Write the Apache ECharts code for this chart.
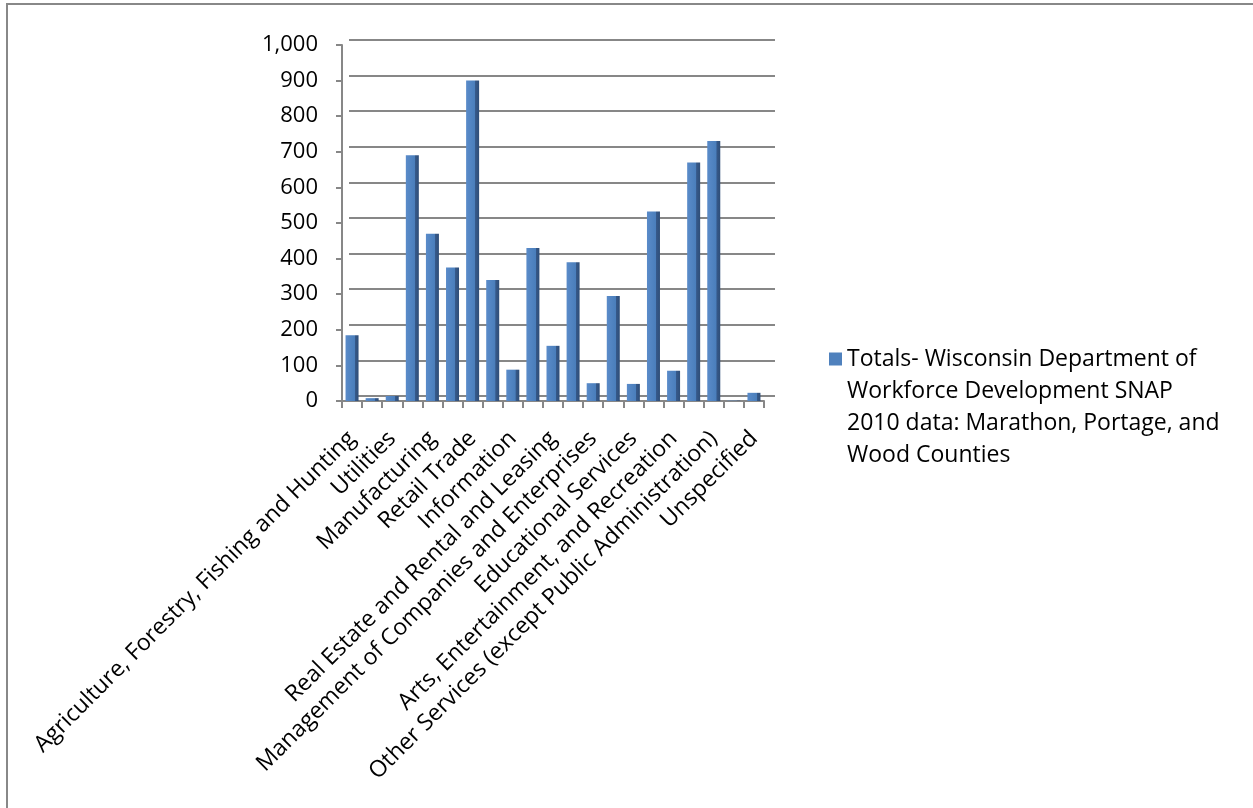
<!DOCTYPE html>
<html>
<head>
<meta charset="utf-8">
<script src="https://cdn.jsdelivr.net/npm/echarts@6/dist/echarts.min.js"></script>
<style>
  html, body { margin: 0; padding: 0; background: #fff; }
  #chart { width: 1253px; height: 808px; }
</style>
</head>
<body>
<div id="chart"></div>
<script>
// NAICS sectors, employment totals
const categories = [
  'Agriculture, Forestry, Fishing and Hunting',
  'Mining',
  'Utilities',
  'Construction',
  'Manufacturing',
  'Wholesale Trade',
  'Retail Trade',
  'Transportation and Warehousing',
  'Information',
  'Finance and Insurance',
  'Real Estate and Rental and Leasing',
  'Professional, Scientific, and Technical Services',
  'Management of Companies and Enterprises',
  'Administrative and Support and Waste Management and Remediation Services',
  'Educational Services',
  'Health Care and Social Assistance',
  'Arts, Entertainment, and Recreation',
  'Accommodation and Food Services',
  'Other Services (except Public Administration)',
  'Public Administration',
  'Unspecified'
];
const totals = [185, 8, 14, 690, 470, 375, 900, 340, 88, 430, 155, 390, 50, 295, 48, 532, 85, 670, 730, 1, 23];
const seriesName = 'Totals- Wisconsin Department of Workforce Development SNAP 2010 data: Marathon, Portage, and Wood Counties';
const legendLines = ['Totals- Wisconsin Department of', 'Workforce Development SNAP', '2010 data: Marathon, Portage, and', 'Wood Counties'];
const yMin = 0, yMax = 1000, yStep = 100;

const FONT = 'Open Sans';
const GRID_GREY = '#878787';
const BAR_BLUE = '#4F81BD';
const LEGEND_LINE = 32;

// Legend swatch: a 13px square sitting beside the first text line,
// with invisible corner points stretching the box over all lines.
const swatchH = LEGEND_LINE * legendLines.length;
const swatchTop = LEGEND_LINE / 2 - 6.5;
const swatchPath = 'path://M0,' + swatchTop + 'H13V' + (swatchTop + 13) + 'H0Z' +
  'M0,0H0.01V0.01H0Z' + 'M0,' + swatchH + 'H0.01V' + (swatchH - 0.01) + 'H0Z';

const chart = echarts.init(document.getElementById('chart'));
chart.setOption({
  animation: false,
  backgroundColor: '#fff',
  textStyle: { fontFamily: FONT, color: '#000' },
  grid: [
    // back wall carrying the gridlines
    { left: 349, top: 40, width: 426, height: 356 },
    // front plane with axes and bars
    { left: 342, top: 45, width: 422, height: 356 }
  ],
  xAxis: [
    { gridIndex: 0, type: 'category', data: categories, show: false },
    {
      gridIndex: 1, type: 'category', data: categories,
      axisLine: { lineStyle: { color: GRID_GREY, width: 2 } },
      axisTick: { show: true, interval: 0, length: 7, lineStyle: { color: GRID_GREY, width: 2 } },
      axisLabel: {
        interval: 1, rotate: 45, margin: 34,
        fontFamily: FONT, fontSize: 23, color: '#000'
      }
    }
  ],
  yAxis: [
    {
      gridIndex: 0, type: 'value', min: yMin, max: yMax, interval: yStep,
      axisLine: { show: false }, axisTick: { show: false }, axisLabel: { show: false },
      splitLine: { lineStyle: { color: GRID_GREY, width: 2 } }
    },
    {
      gridIndex: 1, type: 'value', min: yMin, max: yMax, interval: yStep,
      axisLine: { show: true, lineStyle: { color: GRID_GREY, width: 2 } },
      axisTick: { show: true, length: 6, lineStyle: { color: GRID_GREY, width: 2 } },
      splitLine: { show: false },
      axisLabel: {
        margin: 24, fontFamily: FONT, fontSize: 22, color: '#000',
        formatter: v => v.toLocaleString('en-US')
      }
    }
  ],
  legend: {
    left: 824, top: 338,
    itemWidth: 13, itemHeight: swatchH, itemGap: 0,
    icon: swatchPath,
    symbolKeepAspect: false,
    itemStyle: { color: BAR_BLUE },
    data: [seriesName],
    formatter: () => legendLines.join('\n'),
    textStyle: {
      fontFamily: FONT, fontSize: 23, color: '#000', lineHeight: LEGEND_LINE
    }
  },
  series: [{
    name: seriesName,
    type: 'bar',
    xAxisIndex: 1, yAxisIndex: 1,
    data: totals,
    barWidth: 13,
    itemStyle: {
      color: new echarts.graphic.LinearGradient(0, 0, 1, 0, [
        { offset: 0, color: '#5A8BC9' },
        { offset: 0.7, color: '#4A7EBB' },
        { offset: 0.72, color: '#36598A' },
        { offset: 1, color: '#2F4E78' }
      ])
    }
  }],
  graphic: [
    { type: 'line', shape: { x1: 7, y1: 4, x2: 7, y2: 808 }, style: { stroke: '#888', lineWidth: 2 } },
    { type: 'line', shape: { x1: 6, y1: 4, x2: 1253, y2: 4 }, style: { stroke: '#888', lineWidth: 2 } }
  ]
});
</script>
</body>
</html>
